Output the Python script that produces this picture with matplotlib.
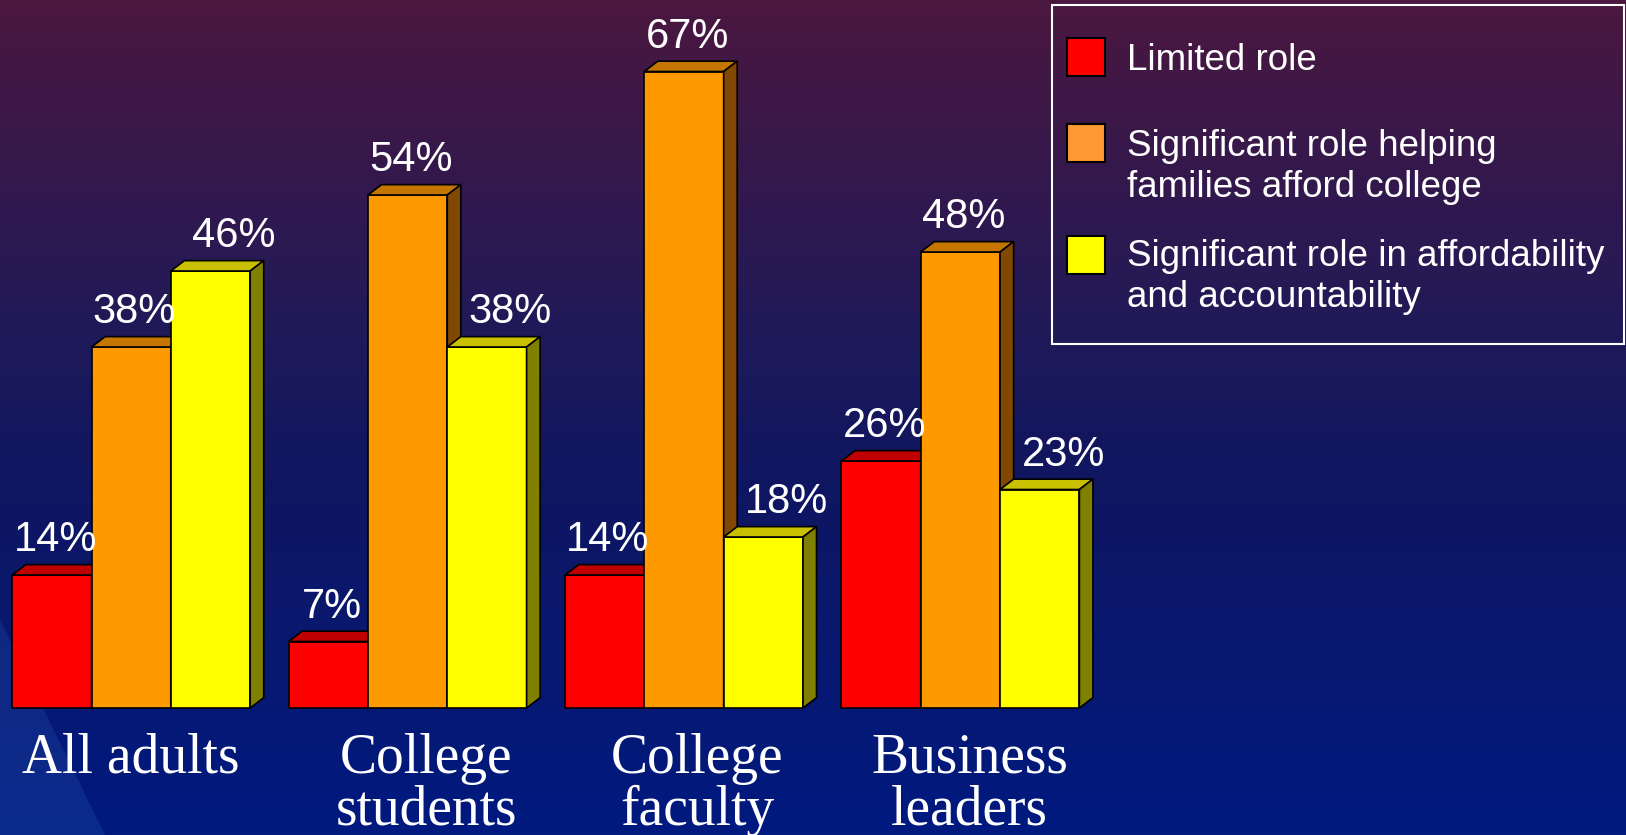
import matplotlib
matplotlib.use('Agg')
import numpy as np
import matplotlib.pyplot as plt
from matplotlib.patches import Polygon, Rectangle
from matplotlib.colors import to_rgb
from matplotlib import font_manager

categorias = ['All adults', 'College\nstudents', 'College\nfaculty', 'Business\nleaders']
series = ['Limited role',
          'Significant role helping\nfamilies afford college',
          'Significant role in affordability\nand accountability']
limited_role = [14, 7, 14, 26]
helping_families = [38, 54, 67, 48]
afford_accountability = [46, 38, 18, 23]

cor_frente = ['#ff0000', '#ff9900', '#ffff00']
cor_topo = ['#c00000', '#c47600', '#c8c000']
cor_lado = ['#800000', '#804800', '#808000']
cor_legenda = ['#ff0000', '#ff9933', '#ffff00']

W, H = 1626, 835
fig = plt.figure(figsize=(W / 100, H / 100), dpi=100)

# fundo em gradiente (roxo -> azul)
bg = fig.add_axes([0, 0, 1, 1])
stops = [(0.0, '#4b173f'), (0.42, '#1d1a5a'), (0.55, '#11165f'), (1.0, '#001a80')]
t = np.linspace(0, 1, H)
grad = np.zeros((H, 1, 3))
for c in range(3):
    grad[:, 0, c] = np.interp(t, [s[0] for s in stops], [to_rgb(s[1])[c] for s in stops])
bg.imshow(grad, aspect='auto', extent=[0, W, H, 0])
bg.add_patch(Polygon([(0, 620), (0, H), (105, H)], closed=True, color='#2a5ab8', alpha=0.25, lw=0))
bg.set_xlim(0, W)
bg.set_ylim(H, 0)
bg.axis('off')

# eixo principal
ax = fig.add_axes([0, 0, 1, 1])
ax.patch.set_alpha(0)
ax.axis('off')
px_x0, px_grupo = 131.2, 276.4
px_base, px_pct = 708, 9.5
ax.set_xlim(-px_x0 / px_grupo, (W - px_x0) / px_grupo)
ax.set_ylim(-(H - px_base) / px_pct, px_base / px_pct)

largura = 0.287
dx, dy = 0.049, 1.09
desloc_rotulo = [0.012, 0.012, 0.085]
desloc_cat = [0.0, 0.067, 0.047, 0.033]
x = np.arange(len(categorias))
valores = [limited_role, helping_families, afford_accountability]

for s, vals in enumerate(valores):
    xs = x + (s - 1) * largura
    barras = ax.bar(xs, vals, largura, color=cor_frente[s], edgecolor='black', linewidth=1.2, zorder=2 + s)
    for rect, v in zip(barras, vals):
        x0 = rect.get_x(); x1 = x0 + rect.get_width(); h = rect.get_height()
        ax.add_patch(Polygon([(x0, h), (x0 + dx, h + dy), (x1 + dx, h + dy), (x1, h)],
                             fc=cor_topo[s], ec='black', lw=1.2, zorder=2 + s))
        ax.add_patch(Polygon([(x1, 0), (x1 + dx, dy), (x1 + dx, h + dy), (x1, h)],
                             fc=cor_lado[s], ec='black', lw=1.2, zorder=2 + s))
        ax.text(rect.get_x() + rect.get_width() / 2 + desloc_rotulo[s], h + 2.5, f'{v}%',
                ha='center', va='baseline', color='white', fontsize=30,
                family='Liberation Sans', zorder=10)

for i, cat in enumerate(categorias):
    for k, linha in enumerate(cat.split('\n')):
        ax.text(x[i] + desloc_cat[i], -6.84 - k * 5.47, linha, ha='center', va='baseline',
                color='white', fontsize=40, family='Liberation Serif', zorder=10)

# legenda
nomes = {f.name for f in font_manager.fontManager.ttflist}
if 'Liberation Sans Narrow' in nomes:
    fonte_leg, tam_leg = 'Liberation Sans Narrow', 32.5
else:
    fonte_leg, tam_leg = 'Liberation Sans', 26.5

bg.add_patch(Rectangle((1052, 5), 572, 339, fill=False, ec='white', lw=1.5))
topo_patch = [38, 124, 236]
base_texto = [70.5, 155.5, 265.5]
for s, nome in enumerate(series):
    bg.add_patch(Rectangle((1067, topo_patch[s]), 38, 38, fc=cor_legenda[s], ec='black', lw=1.5))
    for k, linha in enumerate(nome.split('\n')):
        bg.text(1127, base_texto[s] + k * 41.5, linha, ha='left', va='baseline',
                color='white', fontsize=tam_leg, family=fonte_leg)

fig.savefig('out.png', dpi=100)
